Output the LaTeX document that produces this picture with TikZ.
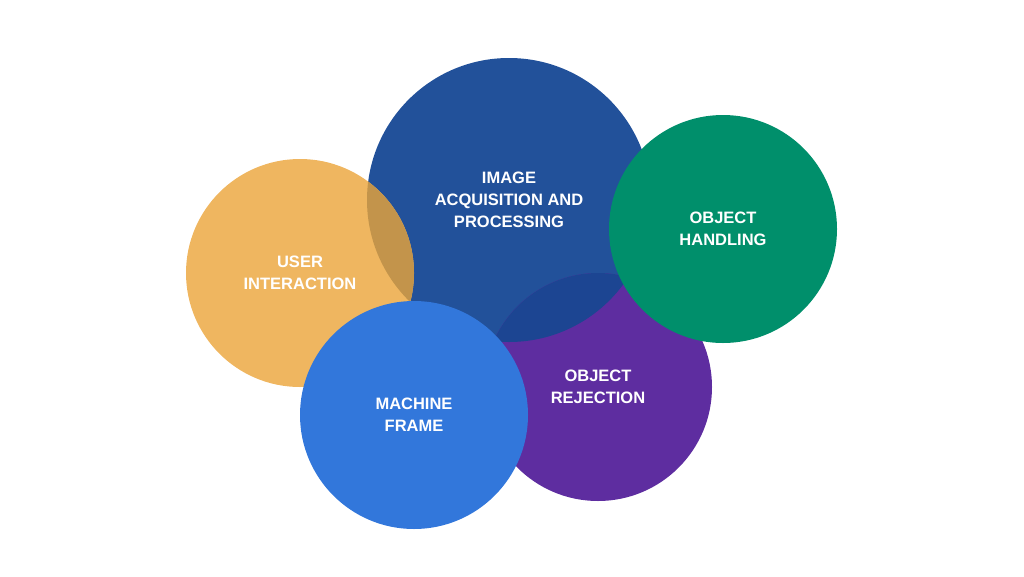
\documentclass[tikz,border=0pt]{standalone}
\usepackage{fontspec}
\setmainfont{Liberation Sans}
\usepackage{tikz}
\usetikzlibrary{positioning}
\definecolor{orangeC}{HTML}{EFB660}
\definecolor{navyC}{HTML}{22519A}
\definecolor{greenC}{HTML}{008F6B}
\definecolor{purpleC}{HTML}{5E2DA0}
\definecolor{blueC}{HTML}{3277DB}
\definecolor{brownC}{HTML}{C3944B}
\definecolor{deepC}{HTML}{1C4592}
\begin{document}
\begin{tikzpicture}[x=1pt,y=-1pt,
  bubble/.style={circle, inner sep=0pt, text=white, align=center,
    font=\fontsize{16.5}{22}\selectfont\bfseries},
  small/.style={bubble, minimum size=228pt},
  big/.style={bubble, minimum size=284pt}]
\useasboundingbox (0,0) rectangle (1024,576);
\node[big, fill=navyC] (I) at (509,200) {IMAGE\\ACQUISITION AND\\PROCESSING};
\node[small, fill=orangeC] (U) at (300,273) {USER\\INTERACTION};
\begin{scope}
\clip (I.center) circle (142);
\fill[brownC] (U.center) circle (114);
\end{scope}
\node[small, fill=purpleC] (R) at (598,387) {OBJECT\\REJECTION};
\begin{scope}
\clip (I.center) circle (142);
\fill[deepC] (R.center) circle (114);
\end{scope}
\node[small, fill=greenC] (H) at (723,229) {OBJECT\\HANDLING};
\node[small, fill=blueC] (M) at (414,415) {MACHINE\\FRAME};
\end{tikzpicture}
\end{document}
